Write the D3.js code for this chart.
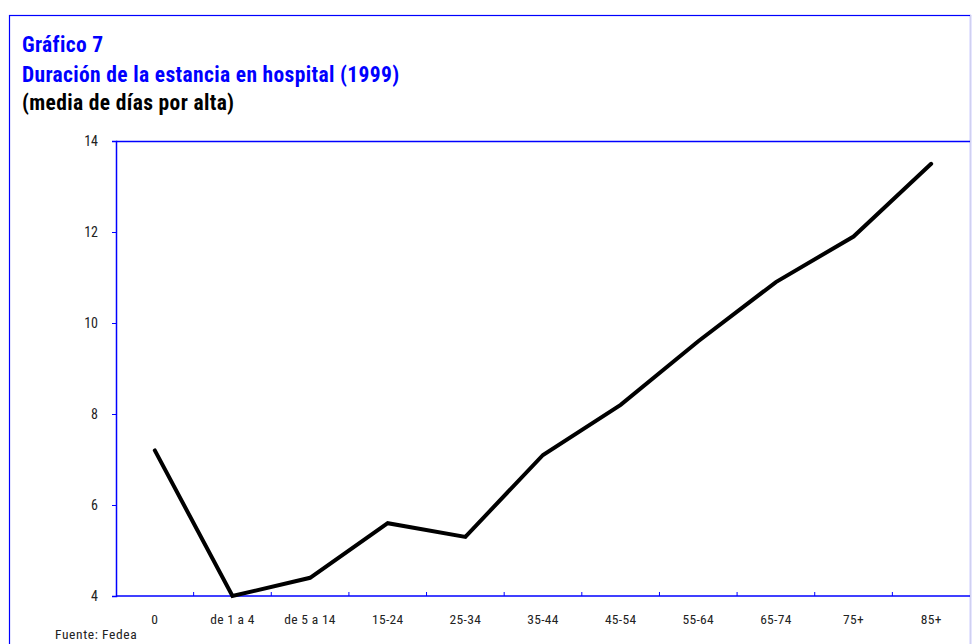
<!DOCTYPE html>
<html><head><meta charset="utf-8">
<script src="https://cdn.jsdelivr.net/npm/d3@7"></script>
<style>body{margin:0;background:#fff}svg{display:block}</style>
</head><body>
<svg id="c" width="972" height="644"></svg>
<script>
const categories = ["0","de 1 a 4","de 5 a 14","15-24","25-34","35-44","45-54","55-64","65-74","75+","85+"];
const values = [7.2, 4.0, 4.4, 5.6, 5.3, 7.1, 8.2, 9.6, 10.9, 11.9, 13.5];
const yTicks = [4, 6, 8, 10, 12, 14];
const titleLines = ["Gráfico 7", "Duración de la estancia en hospital (1999)"];
const subtitle = "(media de días por alta)";
const source = "Fuente: Fedea";

const FONT = "'Liberation Sans Narrow','Roboto Condensed','Arial Narrow',Roboto,sans-serif";
const svg = d3.select("#c");
const blue = "#0000ff";

// outer frame
svg.append("rect").attr("x",9.5).attr("y",15.5).attr("width",961).attr("height",640)
  .attr("fill","none").attr("stroke",blue).attr("stroke-width",1.2);
svg.append("line").attr("x1",970.5).attr("x2",970.5).attr("y1",15).attr("y2",644)
  .attr("stroke","#d0d0f0").attr("stroke-width",1);

// titles
const tg = svg.append("g").attr("font-family",FONT).attr("font-weight","bold").attr("font-size",21.5).attr("letter-spacing",0.35);
tg.append("text").attr("x",22).attr("y",52).attr("fill",blue).text(titleLines[0]);
tg.append("text").attr("x",22).attr("y",82).attr("fill",blue).text(titleLines[1]);
tg.append("text").attr("x",22).attr("y",110).attr("fill","#000").text(subtitle);

const m = {left:116, top:141, right:970, bottom:596};
const x = d3.scaleBand().domain(categories).range([m.left, m.right]);
const y = d3.scaleLinear().domain([4,14]).range([m.bottom, m.top]);

// plot frame top line
svg.append("line").attr("x1",m.left).attr("x2",m.right).attr("y1",m.top+0.5).attr("y2",m.top+0.5)
  .attr("stroke",blue).attr("stroke-width",1.5);

// y axis
const ya = svg.append("g").attr("transform",`translate(${m.left},0)`)
  .call(d3.axisLeft(y).tickValues(yTicks).tickSize(4).tickPadding(14).tickFormat(d3.format("d")));
ya.select(".domain").attr("stroke",blue).attr("stroke-width",1.5);
ya.selectAll(".tick line").attr("stroke",blue);
ya.selectAll("text").attr("font-family",FONT).attr("font-size",14).attr("fill","#222");

// x axis: ticks at band boundaries
const xa = svg.append("g").attr("transform",`translate(0,${m.bottom})`);
xa.append("line").attr("x1",m.left).attr("x2",m.right).attr("stroke",blue).attr("stroke-width",1.5);
const bounds = categories.slice(1).map(c => x(c));
xa.selectAll(".tk").data(bounds).join("line").attr("class","tk")
  .attr("x1",d=>d).attr("x2",d=>d).attr("y1",-4).attr("y2",0).attr("stroke",blue);
xa.selectAll(".lb").data(categories).join("text").attr("class","lb")
  .attr("x",d=>x(d)+x.bandwidth()/2).attr("y",28).attr("text-anchor","middle")
  .attr("font-family",FONT).attr("font-size",13.5).attr("fill","#222").attr("letter-spacing",0.3).text(d=>d);

// line
const line = d3.line().x((d,i)=>x(categories[i])+x.bandwidth()/2).y(d=>y(d));
svg.append("path").datum(values).attr("d",line).attr("fill","none")
  .attr("stroke","#000").attr("stroke-width",4).attr("stroke-linejoin","miter").attr("stroke-linecap","round");

svg.append("text").attr("x",55).attr("y",639).attr("font-family",FONT).attr("font-size",13.5)
  .attr("fill","#222").attr("letter-spacing",0.6).text(source);
</script>
</body></html>
